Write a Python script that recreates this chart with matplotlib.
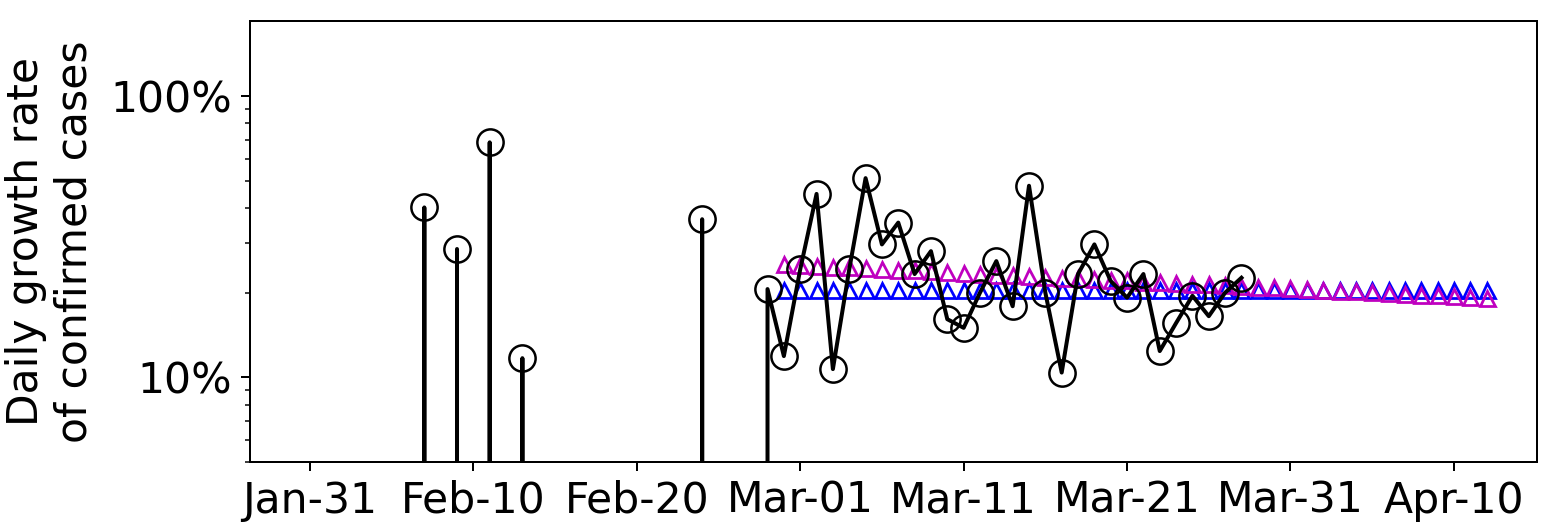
import numpy as np
import pandas as pd
import matplotlib
matplotlib.use("Agg")
import matplotlib.pyplot as plt
import matplotlib.dates as mdates
from matplotlib.ticker import FuncFormatter, NullFormatter

# ---- data ----
obs_start = "2020-02-01"
observed_pct = [0, 0, 0, 0, 0, 0, 40.2, 0, 28.6, 0, 68.5, 0, 11.7,
                0, 0, 0, 0, 0, 0, 0, 0, 0, 0, 36.5, 0, 0, 0,
                20.6, 11.9,
                24.2, 44.9, 10.7, 24.2, 51.1, 29.7, 35.5, 23.3, 28.1, 16.1,
                15.0, 20.0, 25.9, 17.9, 48.0, 20.0, 10.4, 23.3, 29.7, 22.0,
                19.2, 23.3, 12.4, 15.6, 19.5, 16.5, 20.0, 22.6]

model_start = "2020-02-29"
model_blue_pct = [20.4, 20.4, 20.4, 20.4, 20.4, 20.4, 20.4, 20.4, 20.4, 20.4, 20.4,
                  20.4, 20.4, 20.4, 20.4, 20.4, 20.4, 20.4, 20.4, 20.4, 20.4, 20.4,
                  20.4, 20.4, 20.4, 20.4, 20.4, 20.4, 20.4, 20.4, 20.4, 20.4, 20.4,
                  20.4, 20.4, 20.4, 20.4, 20.4, 20.4, 20.4, 20.4, 20.4, 20.4, 20.4]
model_magenta_pct = [25.2, 25.0, 24.9, 24.7, 24.6, 24.4, 24.3, 24.1, 24.0, 23.8, 23.7,
                     23.5, 23.4, 23.2, 23.1, 22.9, 22.8, 22.6, 22.5, 22.4, 22.2, 22.1,
                     21.9, 21.8, 21.7, 21.5, 21.4, 21.3, 21.1, 21.0, 20.9, 20.7, 20.6,
                     20.5, 20.3, 20.2, 20.1, 20.0, 19.8, 19.7, 19.6, 19.5, 19.3, 19.2]

tick_dates = ["2020-01-31", "2020-02-10", "2020-02-20", "2020-03-01",
              "2020-03-11", "2020-03-21", "2020-03-31", "2020-04-10"]
x_range = ["2020-01-27 08:00", "2020-04-15 02:00"]
y_range = [5, 185]
ylabel_text = "Daily growth rate\nof confirmed cases"

# ---- figure ----
plt.rcParams["font.family"] = ["DejaVu Sans"]
plt.rcParams["font.size"] = 17

W, H, DPI = 1562, 522, 180
fig = plt.figure(figsize=(W / DPI, H / DPI), dpi=DPI)
ax = fig.add_axes([250 / W, 1 - 462 / H, (1537 - 250) / W, (462 - 21) / H])

obs_dates = pd.date_range(obs_start, periods=len(observed_pct), freq="D")
mod_dates = pd.date_range(model_start, periods=len(model_blue_pct), freq="D")

ax.set_yscale("log")
ax.plot(mod_dates, model_blue_pct, linestyle="none", marker="^", color="b",
        mfc="none", markersize=6, mew=1.1)
ax.plot(mod_dates, model_magenta_pct, linestyle="none", marker="^", color="m",
        mfc="none", markersize=6, mew=1.1)
ax.plot(obs_dates, observed_pct, color="k", linewidth=1.6, marker="o",
        mfc="none", mec="k", markersize=10.5, mew=1.0)

ax.set_ylim(*y_range)
ax.set_xlim(pd.Timestamp(x_range[0]), pd.Timestamp(x_range[1]))
ax.set_xticks([pd.Timestamp(d) for d in tick_dates])
ax.xaxis.set_major_formatter(mdates.DateFormatter("%b-%d"))
ax.yaxis.set_major_formatter(FuncFormatter(lambda v, p: f"{v:g}%"))
ax.yaxis.set_minor_formatter(NullFormatter())
ax.set_ylabel(ylabel_text, labelpad=6)

fig.savefig("out.png", dpi=DPI)
